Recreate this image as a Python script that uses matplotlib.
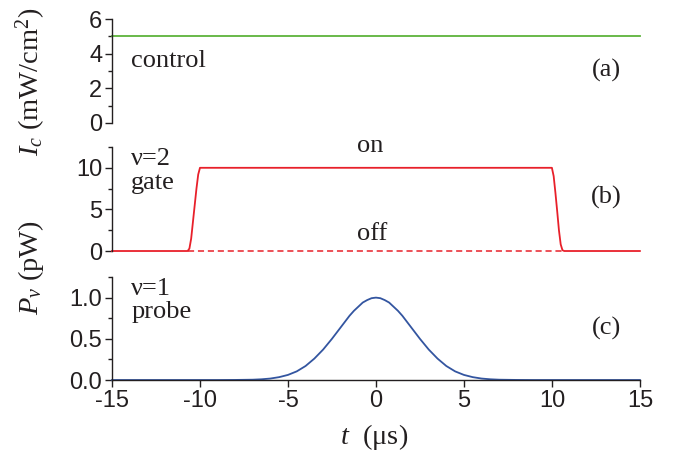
import matplotlib
matplotlib.use("Agg")
import matplotlib.pyplot as plt
from matplotlib.ticker import MultipleLocator, FormatStrFormatter

plt.rcParams['font.family'] = ['Liberation Sans', 'DejaVu Sans']
plt.rcParams['mathtext.fontset'] = 'custom'
plt.rcParams['mathtext.rm'] = 'Liberation Serif'
plt.rcParams['mathtext.it'] = 'Liberation Serif:italic'

# ---- data ----
control_t = [-15, 15]
control_I = [5, 5]

gate_t = [-15, -10.7, -10.6, -10.5, -10.4, -10.3, -10.2, -10.1, -10.0,
          10.0, 10.1, 10.2, 10.3, 10.4, 10.5, 10.6, 10.7, 15]
gate_P = [0, 0, 0.3, 1.5, 3.5, 5.5, 7.5, 9.2, 10.0,
          10.0, 9.0, 7.0, 4.8, 2.5, 0.8, 0.1, 0, 0]

off_t = [-10.7, 10.7]
off_P = [0, 0]

probe_t = [-15, -9, -8, -7, -6.5, -6, -5.5, -5, -4.5, -4, -3.5, -3, -2.5, -2, -1.75, -1.5, -1.25,
           -1, -0.75, -0.5, -0.25, 0, 0.25, 0.5, 0.75, 1, 1.25, 1.5, 1.75, 2, 2.5, 3, 3.5, 4,
           4.5, 5, 5.5, 6, 6.5, 7, 8, 9, 15]
probe_P = [0, 0, 0.001, 0.004, 0.009, 0.018, 0.035, 0.062, 0.105, 0.17, 0.26, 0.37, 0.50, 0.64, 0.71, 0.78, 0.84,
           0.89, 0.94, 0.97, 0.993, 1.0, 0.993, 0.97, 0.94, 0.89, 0.84, 0.78, 0.71, 0.64, 0.50, 0.37, 0.26, 0.17,
           0.105, 0.062, 0.035, 0.018, 0.009, 0.004, 0.001, 0, 0]

xticks = [-15, -10, -5, 0, 5, 10, 15]

# ---- style ----
green = '#5db33a'
red = '#e8202a'
blue = '#3355a0'
ink = '#231f20'
serif = ['Liberation Serif', 'DejaVu Serif']
tick_fs = 17
txt_fs = 19
lab_fs = 20.5

fig = plt.figure(figsize=(6.8, 4.53), dpi=100)
left, right = 0.1647, 0.941
axa = fig.add_axes([left, 0.7285, right - left, 0.958 - 0.7285])
axb = fig.add_axes([left, 0.4459, right - left, 0.6755 - 0.4459])
axc = fig.add_axes([left, 0.1611, right - left, 0.3885 - 0.1611])

for ax in (axa, axb, axc):
    ax.set_xlim(-15, 15)
    ax.spines['top'].set_visible(False)
    ax.spines['right'].set_visible(False)
    for s in ('left', 'bottom'):
        ax.spines[s].set_color(ink)
        ax.spines[s].set_linewidth(1.0)
    ax.tick_params(axis='both', which='major', direction='out', length=5, width=1.0,
                   colors=ink, labelsize=tick_fs, pad=2)
    ax.tick_params(axis='y', which='minor', direction='out', length=3, width=1.0, colors=ink)
    ax.patch.set_alpha(0)

for ax in (axa, axb):
    ax.spines['bottom'].set_visible(False)
    ax.tick_params(axis='x', which='both', bottom=False, labelbottom=False)

# (a) control
axa.plot(control_t, control_I, color=green, lw=1.3, clip_on=False)
axa.set_ylim(0, 6)
axa.yaxis.set_major_locator(MultipleLocator(2))
axa.yaxis.set_minor_locator(MultipleLocator(1))
axa.text(-13.9, 3.6, 'control', fontsize=txt_fs, family=serif, color=ink, va='center', ha='left')
axa.text(13.1, 3.05, '(a)', fontsize=txt_fs, family=serif, color=ink, va='center', ha='center')

# (b) gate
axb.plot(off_t, off_P, color=red, lw=1.1, ls=(0, (4, 2.5)), clip_on=False)
axb.plot(gate_t, gate_P, color=red, lw=1.3, clip_on=False)
axb.set_ylim(0, 12.5)
axb.yaxis.set_major_locator(MultipleLocator(5))
axb.yaxis.set_minor_locator(MultipleLocator(2.5))
axb.text(-13.9, 11.0, 'ν=2', fontsize=txt_fs, family=serif, color=ink, va='center', ha='left')
axb.text(-13.9, 8.2, 'gate', fontsize=txt_fs, family=serif, color=ink, va='center', ha='left')
axb.text(-0.3, 12.6, 'on', fontsize=txt_fs, family=serif, color=ink, va='center', ha='center')
axb.text(-0.2, 2.1, 'off', fontsize=txt_fs, family=serif, color=ink, va='center', ha='center')
axb.text(13.1, 6.4, '(b)', fontsize=txt_fs, family=serif, color=ink, va='center', ha='center')

# (c) probe
axc.plot(probe_t, probe_P, color=blue, lw=1.3, clip_on=False)
axc.set_ylim(0, 1.25)
axc.yaxis.set_major_locator(MultipleLocator(0.5))
axc.yaxis.set_minor_locator(MultipleLocator(0.25))
axc.yaxis.set_major_formatter(FormatStrFormatter('%.1f'))
axc.set_xticks(xticks)
axc.set_xticklabels([str(v) for v in xticks])
axc.text(-13.9, 1.10, 'ν=1', fontsize=txt_fs, family=serif, color=ink, va='center', ha='left')
axc.text(-13.9, 0.82, 'probe', fontsize=txt_fs, family=serif, color=ink, va='center', ha='left')
axc.text(13.1, 0.62, '(c)', fontsize=txt_fs, family=serif, color=ink, va='center', ha='center')

# axis labels
fig.text(31 / 680, 1 - 82 / 453, r'$I_c$ (mW/cm$^2$)', rotation=90, fontsize=lab_fs,
         family=serif, color=ink, va='center', ha='center')
fig.text(31 / 680, 1 - 268 / 453, r'$P_\nu$ (pW)', rotation=90, fontsize=lab_fs,
         family=serif, color=ink, va='center', ha='center')
fig.text(374 / 680, 1 - 437 / 453, r'$t$  (μs)', fontsize=lab_fs,
         family=serif, color=ink, va='center', ha='center')

fig.savefig('out.png', dpi=100)
